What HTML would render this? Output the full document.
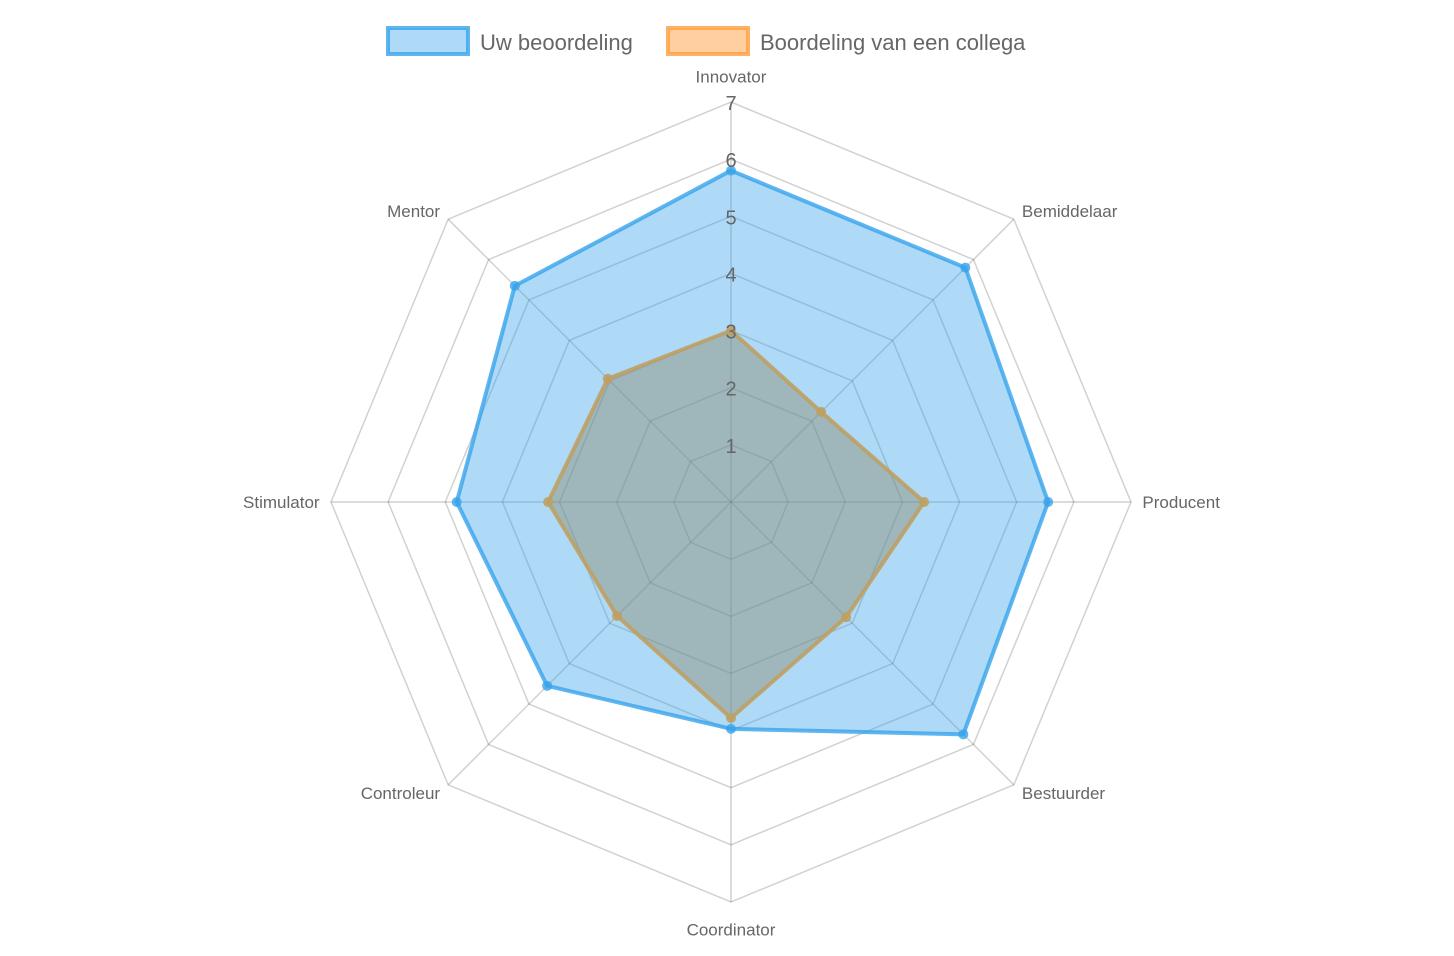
<!DOCTYPE html>
<html><head><meta charset="utf-8"><style>
html,body{margin:0;padding:0;background:#fff;}
svg{display:block;font-family:"Liberation Sans",Arial,sans-serif;}
</style></head><body>
<svg id="chart" width="1454" height="956" viewBox="0 0 1454 956" xmlns="http://www.w3.org/2000/svg">
<g id="legend">
 <g>
  <rect x="388" y="28" width="80" height="26" fill="rgba(54,162,235,0.4)" stroke="rgba(54,162,235,0.8)" stroke-width="4"/>
  <text x="480" y="50" font-size="22" fill="#666">Uw beoordeling</text>
 </g>
 <g>
  <rect x="668" y="28" width="80" height="26" fill="rgba(255,159,64,0.5)" stroke="rgba(255,159,64,0.8)" stroke-width="4"/>
  <text x="760" y="50" font-size="22" fill="#666">Boordeling van een collega</text>
 </g>
</g>
<g id="grid"></g>
<g id="series"></g>
<g id="ticks"></g>
<g id="labels"></g>
</svg>
<script>
const categories = ["Innovator","Bemiddelaar","Producent","Bestuurder","Coordinator","Controleur","Stimulator","Mentor"];
const uwValues = [5.8, 5.8, 5.55, 5.75, 3.97, 4.55, 4.8, 5.35];
const collegaValues = [3.0, 2.23, 3.38, 2.85, 3.78, 2.82, 3.2, 3.05];
const tickLabels = [1,2,3,4,5,6,7];
const maxValue = 7;

const NS="http://www.w3.org/2000/svg";
const cx=731, cy=502, R=400;
function rScale(v){return v/maxValue*R;}
function pt(i,v){const a=-Math.PI/2+i*2*Math.PI/categories.length;const r=rScale(v);return [cx+r*Math.cos(a),cy+r*Math.sin(a)];}
function mk(tag,attrs,parent){const e=document.createElementNS(NS,tag);for(const k in attrs)e.setAttribute(k,attrs[k]);parent.appendChild(e);return e;}

const grid=document.getElementById('grid');
tickLabels.forEach(t=>{
 const p=mk('polygon',{points:categories.map((c,i)=>pt(i,t).join(',')).join(' '),fill:'none',stroke:'rgba(0,0,0,0.18)','stroke-width':1.5},grid);
 
 
});
categories.forEach((c,i)=>{
 const e=pt(i,maxValue);
 const l=mk('line',{x1:cx,y1:cy,x2:e[0],y2:e[1],stroke:'rgba(0,0,0,0.18)','stroke-width':1.5},grid);
 
 
});

const series=document.getElementById('series');
function drawSeries(vals,fill,stroke,name){
 const g=mk('g',{},series);
 
 
 const p=mk('polygon',{points:vals.map((v,i)=>pt(i,v).join(',')).join(' '),fill:fill,stroke:stroke,'stroke-width':4,'stroke-linejoin':'round'},g);
 
 
 vals.forEach((v,i)=>{
  const q=pt(i,v);
  const c=mk('circle',{cx:q[0],cy:q[1],r:5,fill:stroke},g);
  
  
 });
}
drawSeries(uwValues,'rgba(54,162,235,0.4)','rgba(54,162,235,0.8)','uw-beoordeling');
drawSeries(collegaValues,'rgba(140,140,110,0.45)','rgba(190,160,100,0.9)','collega');

const ticks=document.getElementById('ticks');
tickLabels.forEach(t=>{
 const q=pt(0,t);
 const tx=mk('text',{x:q[0],y:q[1]+8,'font-size':20,fill:'#666','text-anchor':'middle'},ticks);
 tx.textContent=t;
 
 
});

const labels=document.getElementById('labels');
categories.forEach((c,i)=>{
 const a=-Math.PI/2+i*2*Math.PI/categories.length;
 const q=pt(i,maxValue+0.2);
 const cos=Math.cos(a), sin=Math.sin(a);
 let anchor='middle';
 if(cos>0.1)anchor='start'; else if(cos<-0.1)anchor='end';
 let dy=6;
 if(sin<-0.9)dy=-8; else if(sin>0.9)dy=22;
 const tx=mk('text',{x:q[0],y:q[1]+dy,'font-size':17,fill:'#666','text-anchor':anchor},labels);
 tx.textContent=c;
 
 
});
</script>
</body></html>
